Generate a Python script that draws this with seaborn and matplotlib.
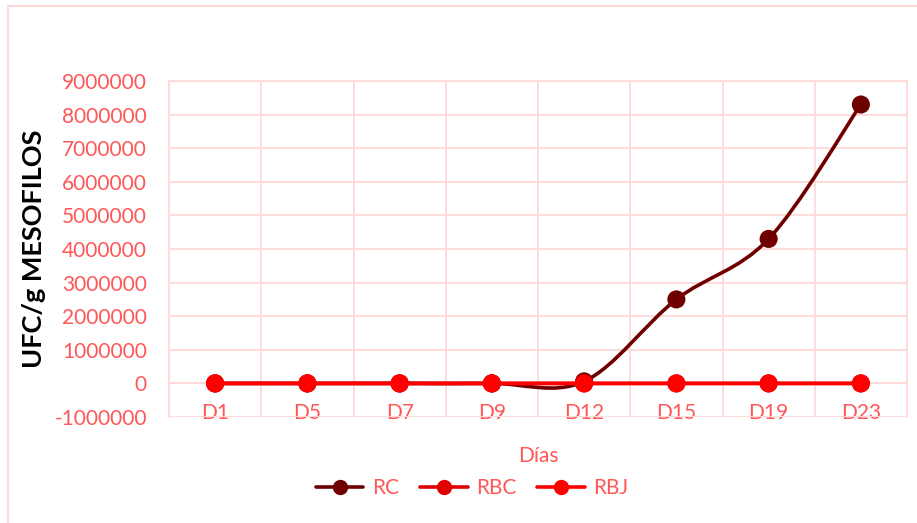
import numpy as np
import pandas as pd
import matplotlib
matplotlib.use("Agg")
import matplotlib.pyplot as plt
from matplotlib.path import Path
from matplotlib.patches import PathPatch
from matplotlib.lines import Line2D
from matplotlib.ticker import FuncFormatter
import seaborn as sns

# Data
dias = ["D1", "D5", "D7", "D9", "D12", "D15", "D19", "D23"]
rc = [0, 0, 0, 0, 60000, 2500000, 4300000, 8300000]
rbc = [0, 0, 0, 0, 0, 0, 0, 0]
rbj = [0, 0, 0, 0, 0, 0, 0, 0]
series = ["RC", "RBC", "RBJ"]
colores = ["#700000", "#E00000", "#FF0000"]

texto = "#FF5757"
rejilla = "#FFD9D9"

sns.set_style("white")
plt.rcParams['font.family'] = ['Lato', 'DejaVu Sans']


# Excel-like smoothed line (cubic Bezier through the points)
def smooth_path(xs, ys):
    pts = np.column_stack([xs, ys]).astype(float)
    padded = np.vstack([pts[0], pts, pts[-1]])
    verts = [pts[0]]
    codes = [Path.MOVETO]
    for i in range(len(pts) - 1):
        p0, p1, p2, p3 = padded[i], padded[i + 1], padded[i + 2], padded[i + 3]
        verts += [p1 + (p2 - p0) / 6, p2 - (p3 - p1) / 6, p2]
        codes += [Path.CURVE4] * 3
    return Path(verts, codes)


df = pd.DataFrame({
    "pos": list(range(len(dias))) * 3,
    "valor": rc + rbc + rbj,
    "serie": np.repeat(series, len(dias)),
})

fig = plt.figure(figsize=(9.17, 5.23), dpi=100)
ax = fig.add_axes([169 / 917, 106 / 523, 738 / 917, 336 / 523])

for k, (nombre, color) in enumerate(zip(series, colores)):
    sub = df[df["serie"] == nombre]
    patch = PathPatch(smooth_path(sub["pos"], sub["valor"]), fill=False,
                      edgecolor=color, lw=2.6, capstyle="round", zorder=3 + k)
    ax.add_patch(patch)
    sns.scatterplot(data=sub, x="pos", y="valor", color=color, s=170,
                    edgecolor="none", ax=ax, zorder=3 + k, legend=False)

ax.set_xlim(-0.5, len(dias) - 0.5)
ax.set_ylim(-1000000, 9000000)
ax.set_yticks(range(-1000000, 9000001, 1000000))
ax.yaxis.set_major_formatter(FuncFormatter(lambda v, p: f"{int(v)}"))
ax.set_xticks(range(len(dias)))
ax.set_xticklabels(dias)
ax.set_xticks(np.arange(-0.5, len(dias)), minor=True)

ax.grid(which="minor", axis="x", color=rejilla, lw=1.3)
ax.grid(which="major", axis="y", color=rejilla, lw=1.3)
ax.grid(which="major", axis="x", visible=False)
ax.set_axisbelow(True)

ax.tick_params(axis="both", which="both", length=0, labelsize=15, colors=texto)
ax.tick_params(axis="y", pad=16)
ax.tick_params(axis="x", pad=14)

for s in ["left", "right", "top", "bottom"]:
    ax.spines[s].set_color(rejilla)
    ax.spines[s].set_linewidth(1.3)
ax.spines["bottom"].set_position(("data", 0))

ax.set_xlabel("Días", fontsize=15, color=texto)
ax.xaxis.set_label_coords(0.5, -0.085)
ax.set_ylabel("UFC/g MESOFILOS", fontsize=19.5, fontweight="bold", color="black")
ax.yaxis.set_label_coords(-0.167, 0.5)

handles = [Line2D([0], [0], color=c, lw=2.6, marker="o", markersize=10) for c in colores]
leg = fig.legend(handles, series, loc="center", bbox_to_anchor=(472 / 917, 1 - 488 / 523),
                 ncol=3, frameon=False, fontsize=15, handlelength=2.3, columnspacing=1.0,
                 handletextpad=0.4)
for t in leg.get_texts():
    t.set_color(texto)

# outer chart border (top and left edges visible)
fig.add_artist(Line2D([8 / 917, 1], [1 - 6 / 523, 1 - 6 / 523], transform=fig.transFigure,
                      color=rejilla, lw=1.5))
fig.add_artist(Line2D([8 / 917, 8 / 917], [0, 1 - 6 / 523], transform=fig.transFigure,
                      color=rejilla, lw=1.5))

fig.savefig("out.png", dpi=100)
